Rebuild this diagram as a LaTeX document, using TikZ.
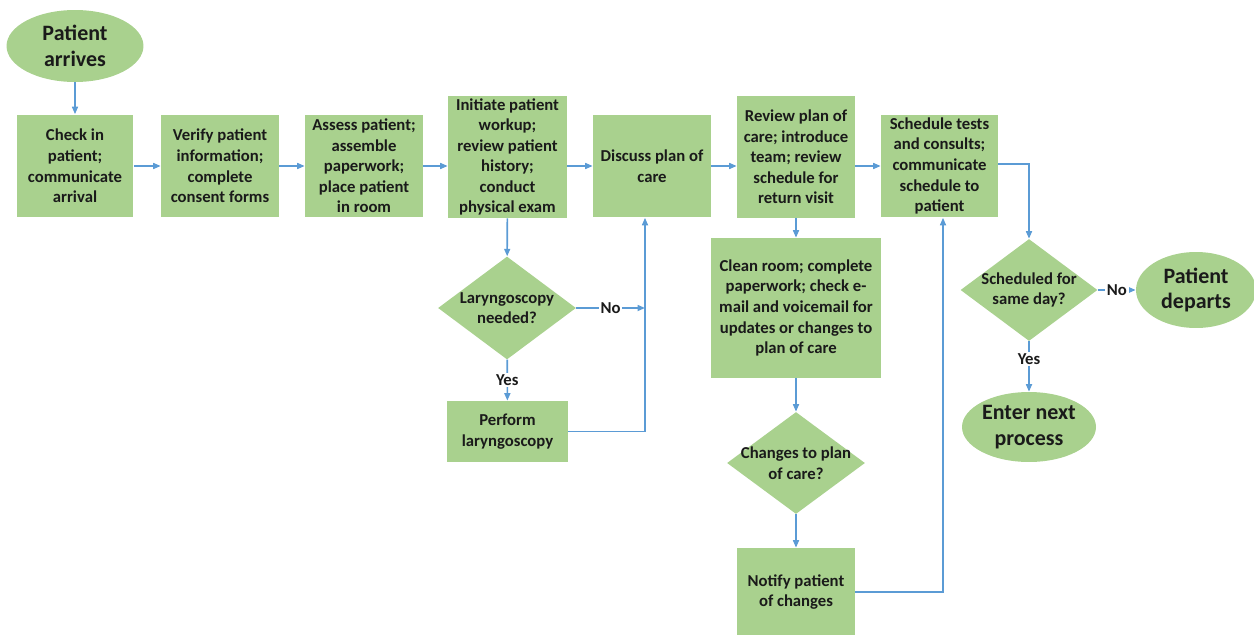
\documentclass[tikz,border=0pt]{standalone}
\usepackage{fontspec}
\setmainfont{Carlito}
\usetikzlibrary{positioning,arrows.meta,shapes.geometric}
\definecolor{pgreen}{HTML}{A9D18E}
\definecolor{pblue}{HTML}{5B9BD5}
\definecolor{ptext}{HTML}{1A1A1A}
\tikzset{
  stepbox/.style ={fill=pgreen, minimum width=2.36cm, minimum height=2.06cm,
                   inner sep=1pt, align=center, text=ptext,
                   font=\fontsize{9.5}{11.7}\selectfont\bfseries},
  decision/.style={diamond, fill=pgreen, inner sep=0pt},
  terminal/.style={ellipse, fill=pgreen, inner sep=0pt},
  qtext/.style   ={align=center, text=ptext, font=\fontsize{9.5}{11.7}\selectfont\bfseries},
  bigtext/.style ={align=center, text=ptext, font=\fontsize{12.5}{14.5}\selectfont\bfseries},
  answer/.style  ={fill=white, inner sep=1pt, text=ptext, font=\fontsize{9.5}{11.7}\selectfont\bfseries},
  flow/.style    ={draw=pblue, line width=0.9pt, -{Triangle[length=1.5mm,width=1.2mm]}},
}
\begin{document}
\begin{tikzpicture}[x=0.02cm, y=-0.02cm]
    \useasboundingbox (0,0) rectangle (1254,635);
    % --- top row ---
    \node[terminal, minimum width=2.74cm, minimum height=1.44cm] (arrives) at (75,46) {};
    \node[bigtext] at (arrives) {Patient\\arrives};
    \node[stepbox, minimum width=2.34cm] (checkin) at (75,166) {Check in\\patient;\\communicate\\arrival};
    \node[stepbox] (verify) at (220,166) {Verify patient\\information;\\complete\\consent forms};
    \node[stepbox] (assess) at (364,166) {Assess patient;\\assemble\\paperwork;\\place patient\\in room};
    \node[stepbox, minimum width=2.38cm, minimum height=2.44cm] (initiate) at (507.5,157)
      {Initiate patient\\workup;\\review patient\\history;\\conduct\\physical exam};
    \node[stepbox] (discuss) at (652,166) {Discuss plan of\\care};
    \node[stepbox, minimum height=2.44cm] (review) at (796,157)
      {Review plan of\\care; introduce\\team; review\\schedule for\\return visit};
    \node[stepbox, minimum width=2.34cm] (schedtests) at (939.5,166)
      {Schedule tests\\and consults;\\communicate\\schedule to\\patient};
    % --- laryngoscopy branch ---
    \node[decision, minimum width=2.76cm, minimum height=2.06cm] (lary) at (507,308) {};
    \node[qtext] at (lary) {Laryngoscopy\\needed?};
    \node[stepbox, minimum width=2.42cm, minimum height=1.22cm] (perform) at (507.5,431.5) {Perform\\laryngoscopy};
    \coordinate (rejoin) at (645,0);
    % --- review branch ---
    \node[stepbox, minimum width=3.4cm, minimum height=2.8cm] (clean) at (796,308)
      {Clean room; complete\\paperwork; check e-\\mail and voicemail for\\updates or changes to\\plan of care};
    \node[decision, minimum width=2.76cm, minimum height=2.04cm] (changes) at (796,463) {};
    \node[qtext] at (changes) {Changes to plan\\of care?};
    \node[stepbox, minimum height=1.76cm] (notify) at (796,592) {Notify patient\\of changes};
    \coordinate (uplink) at (943,0);
    % --- end of visit ---
    \node[decision, minimum width=2.74cm, minimum height=2.04cm] (sameday) at (1029,290) {};
    \node[qtext] at (sameday) {Scheduled for\\same day?};
    \node[terminal, minimum width=2.4cm, minimum height=1.52cm] (departs) at (1196,290) {};
    \node[bigtext] at (departs) {Patient\\departs};
    \node[terminal, minimum width=2.68cm, minimum height=1.4cm] (enter) at (1029,427) {};
    \node[bigtext] at (enter) {Enter next\\process};
    % --- connectors ---
    \draw[flow] (arrives) -- (checkin);
    \draw[flow] (checkin) -- (verify);
    \draw[flow] (verify) -- (assess);
    \draw[flow] (assess.east) -- (assess.east -| initiate.west);
    \draw[flow] (initiate.east |- discuss) -- (discuss.west);
    \draw[flow] (discuss.east) -- (discuss.east -| review.west);
    \draw[flow] (review.east |- schedtests) -- (schedtests.west);
    \draw[flow] (initiate) -- (lary);
    \draw[flow] (lary) -- node[answer]{No} (lary -| rejoin);
    \draw[flow] (lary) -- node[answer]{Yes} (perform);
    \draw[flow] (perform.east) -| (rejoin |- discuss.south);
    \draw[flow] (review) -- (clean);
    \draw[flow] (clean) -- (changes);
    \draw[flow] (changes) -- (notify);
    \draw[flow] (notify.east) -| (uplink |- schedtests.south);
    \draw[flow] ([yshift=0.04cm]schedtests.east) -| (sameday);
    \draw[flow] (sameday) -- node[answer]{No} (departs);
    \draw[flow] (sameday) -- node[answer, pos=0.35]{Yes} (enter);
\end{tikzpicture}
\end{document}
